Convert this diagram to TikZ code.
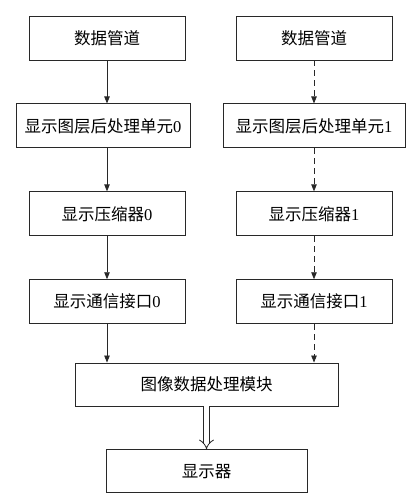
\documentclass[tikz,border=0pt]{standalone}
\usepackage{fontspec}
\setmainfont{Liberation Serif}
\newfontfamily\cjk{Noto Sans CJK SC}
\usetikzlibrary{arrows.meta,positioning}
\definecolor{linegray}{RGB}{40,40,40}

\begin{document}
\begin{tikzpicture}[
  x=1pt, y=1pt,
  node distance=43pt,
  blk/.style={rectangle, draw=linegray, line width=0.9pt, fill=white,
              minimum width=156pt, minimum height=44pt, inner sep=2pt,
              font=\fontsize{16.5}{19}\selectfont},
  arr/.style={-{Triangle[length=7pt,width=5.5pt]}, line width=0.8pt, linegray},
  darr/.style={arr, dash pattern=on 6pt off 4pt},
  bigarr/.style={double=white, double distance=4.5pt, line width=0.8pt, linegray,
                 -{Implies[length=8pt]}}
]
\useasboundingbox (0,0) rectangle (411,-500);
% left channel
\node[blk] (pipeA) at (107,-38) {\cjk 数据管道};
\node[blk, minimum width=174pt, below=of pipeA, xshift=-4pt] (postA) {{\cjk 显示图层后处理单元}0};
\node[blk, below=of postA, xshift=4pt] (compA) {{\cjk 显示压缩器}0};
\node[blk, below=of compA] (commA) {{\cjk 显示通信接口}0};
% right channel
\node[blk] (pipeB) at (314,-38) {\cjk 数据管道};
\node[blk, minimum width=182pt, below=of pipeB] (postB) {{\cjk 显示图层后处理单元}1};
\node[blk, below=of postB] (compB) {{\cjk 显示压缩器}1};
\node[blk, below=of compB] (commB) {{\cjk 显示通信接口}1};
% merge and output
\node[blk, minimum width=263pt, minimum height=43pt] (proc) at (206.5,-384.5) {\cjk 图像数据处理模块};
\node[blk, minimum width=201pt, minimum height=43pt, below=of proc] (disp) {\cjk 显示器};

\draw[arr] (pipeA) -- (postA.north -| pipeA);
\draw[arr] (postA.south -| pipeA) -- (compA);
\draw[arr] (compA) -- (commA);
\draw[arr] (commA) -- (proc.north -| commA);

\draw[darr] (pipeB) -- (postB);
\draw[darr] (postB) -- (compB);
\draw[darr] (compB) -- (commB);
\draw[darr] (commB) -- (proc.north -| commB);

\draw[bigarr] (proc) -- (disp);
\end{tikzpicture}
\end{document}
